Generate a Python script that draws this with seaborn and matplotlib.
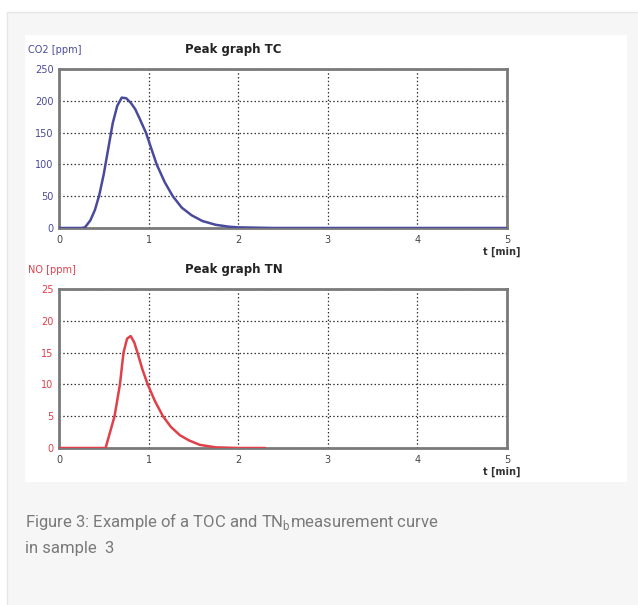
import pandas as pd
import matplotlib.pyplot as plt
import matplotlib.patches as mpatches
import seaborn as sns

# values
tc_time = [0, 0.25, 0.29, 0.35, 0.40, 0.45, 0.50, 0.55, 0.60, 0.65, 0.70, 0.75, 0.80, 0.85, 0.90,
           0.97, 1.03, 1.09, 1.18, 1.27, 1.37, 1.48, 1.60, 1.75, 1.90, 2.00, 2.40, 5.00]
tc_co2 = [0, 0, 1, 12, 28, 52, 85, 125, 165, 192, 205, 204, 197, 187, 172,
          150, 125, 100, 72, 50, 32, 20, 11, 5, 2, 1, 0, 0]

tn_time = [0, 0.52, 0.57, 0.62, 0.68, 0.72, 0.76, 0.80, 0.84, 0.88, 0.93, 0.99, 1.07,
           1.16, 1.25, 1.35, 1.45, 1.57, 1.75, 2.00, 2.30]
tn_no = [0, 0, 2.5, 5, 10, 15, 17.2, 17.6, 16.6, 14.8, 12.4, 10, 7.4,
         5, 3.3, 2, 1.2, 0.5, 0.1, 0, 0]

x_ticks = [0, 1, 2, 3, 4, 5]
tc_y_ticks = [0, 50, 100, 150, 200, 250]
tn_y_ticks = [0, 5, 10, 15, 20, 25]

blue = '#4a4a9c'
red = '#e0404a'

sns.set_style('white')
plt.rcParams['font.family'] = ['DejaVu Sans']

fig = plt.figure(figsize=(6.38, 6.05), dpi=100, facecolor='white')
W, H = 638, 605


def px_rect(x0, y0, x1, y1, **kw):
    fig.patches.append(mpatches.Rectangle((x0 / W, 1 - y1 / H), (x1 - x0) / W, (y1 - y0) / H,
                                          transform=fig.transFigure, figure=fig, zorder=-5, **kw))


# page card and the white picture area
px_rect(7, 12, 640, 610, facecolor='#f6f6f6', edgecolor='#e6e6e6', linewidth=1)
px_rect(25, 35, 627, 482, facecolor='white', edgecolor='none')


def peak_panel(top, df, ycol, color, yticks, title, ylabel):
    ax = fig.add_axes([59 / W, 1 - (top + 159) / H, 448 / W, 159 / H])
    ax.set_facecolor('white')
    sns.lineplot(data=df, x='t', y=ycol, color=color, linewidth=1.8, ax=ax, zorder=3)
    ax.set_xlim(0, 5)
    ax.set_ylim(0, yticks[-1])
    ax.set_xticks(x_ticks)
    ax.set_yticks(yticks)
    ax.tick_params(axis='x', labelsize=7, colors='#444444', length=2, pad=3)
    ax.tick_params(axis='y', labelsize=7, labelcolor=color, color='#444444', length=2, pad=2)
    ax.grid(True, linestyle=(0, (1.2, 1.8)), linewidth=0.9, color='#333333')
    for s in ax.spines.values():
        s.set_color('#7a7a7a')
        s.set_linewidth(2)
    ax.set_xlabel('')
    ax.set_ylabel('')
    ax.text(0.39, 1.12, title, transform=ax.transAxes, ha='center', va='center',
            fontsize=8.5, fontweight='bold', color='#222222')
    ax.text(-0.07, 1.12, ylabel, transform=ax.transAxes, ha='left', va='center',
            fontsize=7, color=color)
    ax.text(1.03, -0.15, 't [min]', transform=ax.transAxes, ha='right', va='center',
            fontsize=7, fontweight='bold', color='#333333')
    return ax


tc_df = pd.DataFrame({'t': tc_time, 'CO2': tc_co2})
tn_df = pd.DataFrame({'t': tn_time, 'NO': tn_no})

peak_panel(69, tc_df, 'CO2', blue, tc_y_ticks, 'Peak graph TC', 'CO2 [ppm]')
peak_panel(289, tn_df, 'NO', red, tn_y_ticks, 'Peak graph TN', 'NO [ppm]')

caption_font = ['Roboto', 'DejaVu Sans']
fig.text(25 / W, 1 - 522 / H, r'Figure 3: Example of a TOC and TN$_\mathregular{b}$measurement curve',
         fontsize=12, color='#7a7a7a', family=caption_font, va='center', ha='left')
fig.text(25 / W, 1 - 548 / H, 'in sample  3',
         fontsize=12, color='#7a7a7a', family=caption_font, va='center', ha='left')

fig.savefig('out.png', dpi=100, facecolor=fig.get_facecolor())
